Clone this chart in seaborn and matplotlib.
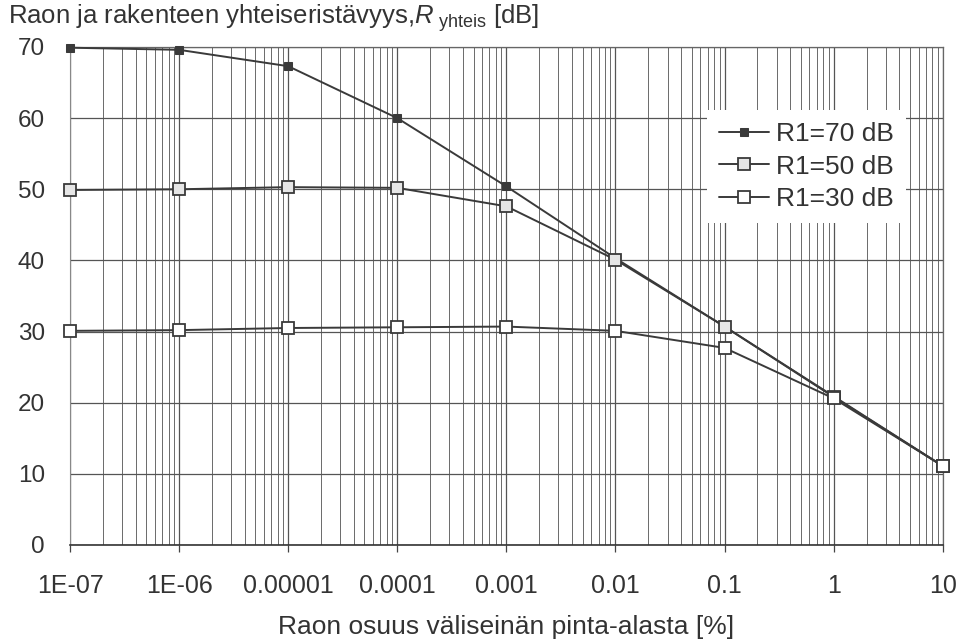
import matplotlib
matplotlib.use("Agg")
import matplotlib.pyplot as plt
import seaborn as sns
import numpy as np
import pandas as pd
from matplotlib.ticker import FixedLocator, LogLocator, NullFormatter

# ---- data ----
gap_share = [1e-7, 1e-6, 1e-5, 1e-4, 1e-3, 1e-2, 1e-1, 1, 10]
x_tick_labels = ["1E-07", "1E-06", "0.00001", "0.0001", "0.001", "0.01", "0.1", "1", "10"]
r70 = [69.9, 69.6, 67.3, 60.0, 50.4, 40.3, 30.7, 20.9, 11.1]
r50 = [49.9, 50.0, 50.3, 50.2, 47.6, 40.1, 30.7, 20.8, 11.1]
r30 = [30.1, 30.2, 30.5, 30.6, 30.7, 30.1, 27.7, 20.6, 11.1]
series_names = ["R1=70 dB", "R1=50 dB", "R1=30 dB"]

sns.set_theme(style="white")
plt.rcParams["font.family"] = ["Liberation Sans", "DejaVu Sans"]
plt.rcParams["mathtext.fontset"] = "custom"
plt.rcParams["mathtext.rm"] = "Liberation Sans"
plt.rcParams["mathtext.it"] = "Liberation Sans:italic"

fig = plt.figure(figsize=(9.63, 6.41), dpi=100)
ax = fig.add_axes([0.0727, 0.1498, 0.9063, 0.7769])

line_col = "#3a3a3a"
styles = [
    dict(marker="s", markersize=6, markerfacecolor="#3a3a3a", markeredgecolor="#3a3a3a"),
    dict(marker="s", markersize=9, markerfacecolor="#e6e6e6", markeredgecolor="#3a3a3a", markeredgewidth=1.3),
    dict(marker="s", markersize=9, markerfacecolor="white", markeredgecolor="#3a3a3a", markeredgewidth=1.3),
]
for vals, name, st in zip([r70, r50, r30], series_names, styles):
    df = pd.DataFrame({"x": gap_share, "y": vals})
    sns.lineplot(data=df, x="x", y="y", ax=ax, color=line_col, linewidth=1.4,
                 label=name, zorder=3, clip_on=False, **st)

ax.set_xscale("log")
ax.set_xlim(1e-7, 10)
ax.set_ylim(0, 70)
ax.xaxis.set_major_locator(FixedLocator(gap_share))
ax.set_xticklabels(x_tick_labels)
ax.xaxis.set_minor_locator(LogLocator(base=10, subs=np.arange(2, 10), numticks=100))
ax.xaxis.set_minor_formatter(NullFormatter())
ax.set_yticks(np.arange(0, 71, 10))

ax.grid(True, which="major", axis="both", color="#555555", linewidth=0.9)
ax.grid(True, which="minor", axis="x", color="#6a6a6a", linewidth=0.7)

for side in ["top", "right"]:
    ax.spines[side].set_visible(True)
    ax.spines[side].set_color("#666666")
    ax.spines[side].set_linewidth(0.9)
ax.spines["left"].set_color("#888888")
ax.spines["left"].set_linewidth(0.8)
ax.spines["bottom"].set_color("#333333")
ax.spines["bottom"].set_linewidth(1.2)

ax.tick_params(axis="x", which="major", direction="out", length=5, width=0.9,
               color="#444444", labelsize=18, labelcolor="#333333", pad=16, bottom=True)
ax.tick_params(axis="x", which="minor", length=0)
ax.tick_params(axis="y", length=0, labelsize=17.5, labelcolor="#333333", pad=18)

ax.set_xlabel("Raon osuus väliseinän pinta-alasta [%]", fontsize=19, color="#333333", labelpad=12)
ax.set_ylabel("")
fig.text(0.008, 0.972, r"Raon ja rakenteen yhteiseristävyys,$\mathit{R}_{\ \mathrm{yhteis}}$ [dB]",
         fontsize=18.5, color="#333333", ha="left", va="center")

leg = ax.legend(loc="upper left", bbox_to_anchor=(0.7297, 0.8735), fontsize=19,
                frameon=True, fancybox=False, framealpha=1, edgecolor="white",
                facecolor="white",
                handlelength=1.9, handletextpad=0.27, borderpad=0.45, labelspacing=0.33,
                borderaxespad=0)
leg.get_frame().set_linewidth(0)
for t in leg.get_texts():
    t.set_color("#333333")

fig.savefig("out.png", dpi=100, facecolor="white")
